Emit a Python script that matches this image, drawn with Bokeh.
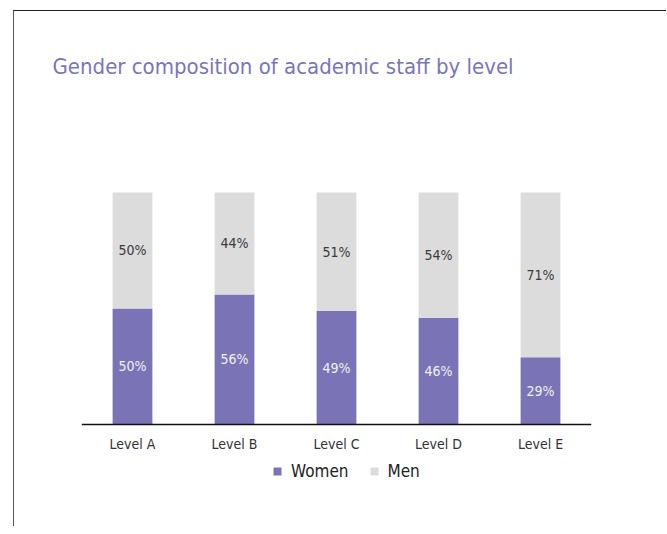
from bokeh.plotting import figure
from bokeh.models import FactorRange, Range1d, ColumnDataSource, Legend, LegendItem
from bokeh.core.properties import value
from bokeh.embed import file_html
from bokeh.resources import INLINE

levels = ["Level A", "Level B", "Level C", "Level D", "Level E"]
women = [50, 56, 49, 46, 29]
men = [50, 44, 51, 54, 71]
series = ["Women", "Men"]

PURPLE = "#7a74b6"
GREY = "#dcdcdd"
FONT = "DejaVu Sans Condensed"

src = ColumnDataSource(dict(
    level=levels,
    women=women,
    men=men,
    women_mid=[w / 2 for w in women],
    men_mid=[w + m / 2 for w, m in zip(women, men)],
    women_lbl=[f"{w}%" for w in women],
    men_lbl=[f"{m}%" for m in men],
))

p = figure(
    x_range=FactorRange(*levels),
    y_range=Range1d(-28.9, 143.5),
    frame_width=510, frame_height=400,
    output_backend="svg", toolbar_location=None,
    min_border_left=67, min_border_right=75,
    min_border_top=80, min_border_bottom=35,
)
p.margin = (10, 0, 0, 13)
p.styles = {"border-top": "1px solid #222", "border-left": "1px solid #555"}

p.title.text = "Gender composition of academic staff by level"
p.title.align = "left"
p.title.offset = -29
p.title.standoff = 25
p.title.text_font = FONT
p.title.text_font_size = "22px"
p.title.text_font_style = "normal"
p.title.text_color = "#7b76b9"

rs = p.vbar_stack(["women", "men"], x="level", width=0.39, source=src,
                  color=[PURPLE, GREY], line_color=None)

p.text(x="level", y="women_mid", text="women_lbl", source=src,
       text_align="center", text_baseline="middle",
       text_font=value(FONT), text_font_size="14px", text_color="#f0f0f0")
p.text(x="level", y="men_mid", text="men_lbl", source=src,
       text_align="center", text_baseline="middle",
       text_font=value(FONT), text_font_size="14px", text_color="#3a3a3a")

p.yaxis.visible = False
p.xgrid.visible = False
p.ygrid.visible = False
p.outline_line_color = None
p.xaxis.fixed_location = 0
p.xaxis.axis_line_color = "#111111"
p.xaxis.axis_line_width = 1.5
p.xaxis.major_tick_line_color = None
p.xaxis.minor_tick_line_color = None
p.xaxis.major_tick_out = 0
p.xaxis.major_label_standoff = 12
p.xaxis.major_label_text_font = FONT
p.xaxis.major_label_text_font_size = "14px"
p.xaxis.major_label_text_color = "#333333"

legend = Legend(
    items=[LegendItem(label=series[0], renderers=[rs[0]]),
           LegendItem(label=series[1], renderers=[rs[1]])],
    orientation="horizontal", location=(191, 10),
    border_line_color=None, background_fill_alpha=0,
    glyph_width=10, glyph_height=10,
    label_text_font=FONT, label_text_font_size="17px", label_text_color="#222222",
    spacing=20, label_standoff=9, padding=0, margin=0,
)
p.add_layout(legend, "center")

open("out.html", "w").write(file_html(p, INLINE))
